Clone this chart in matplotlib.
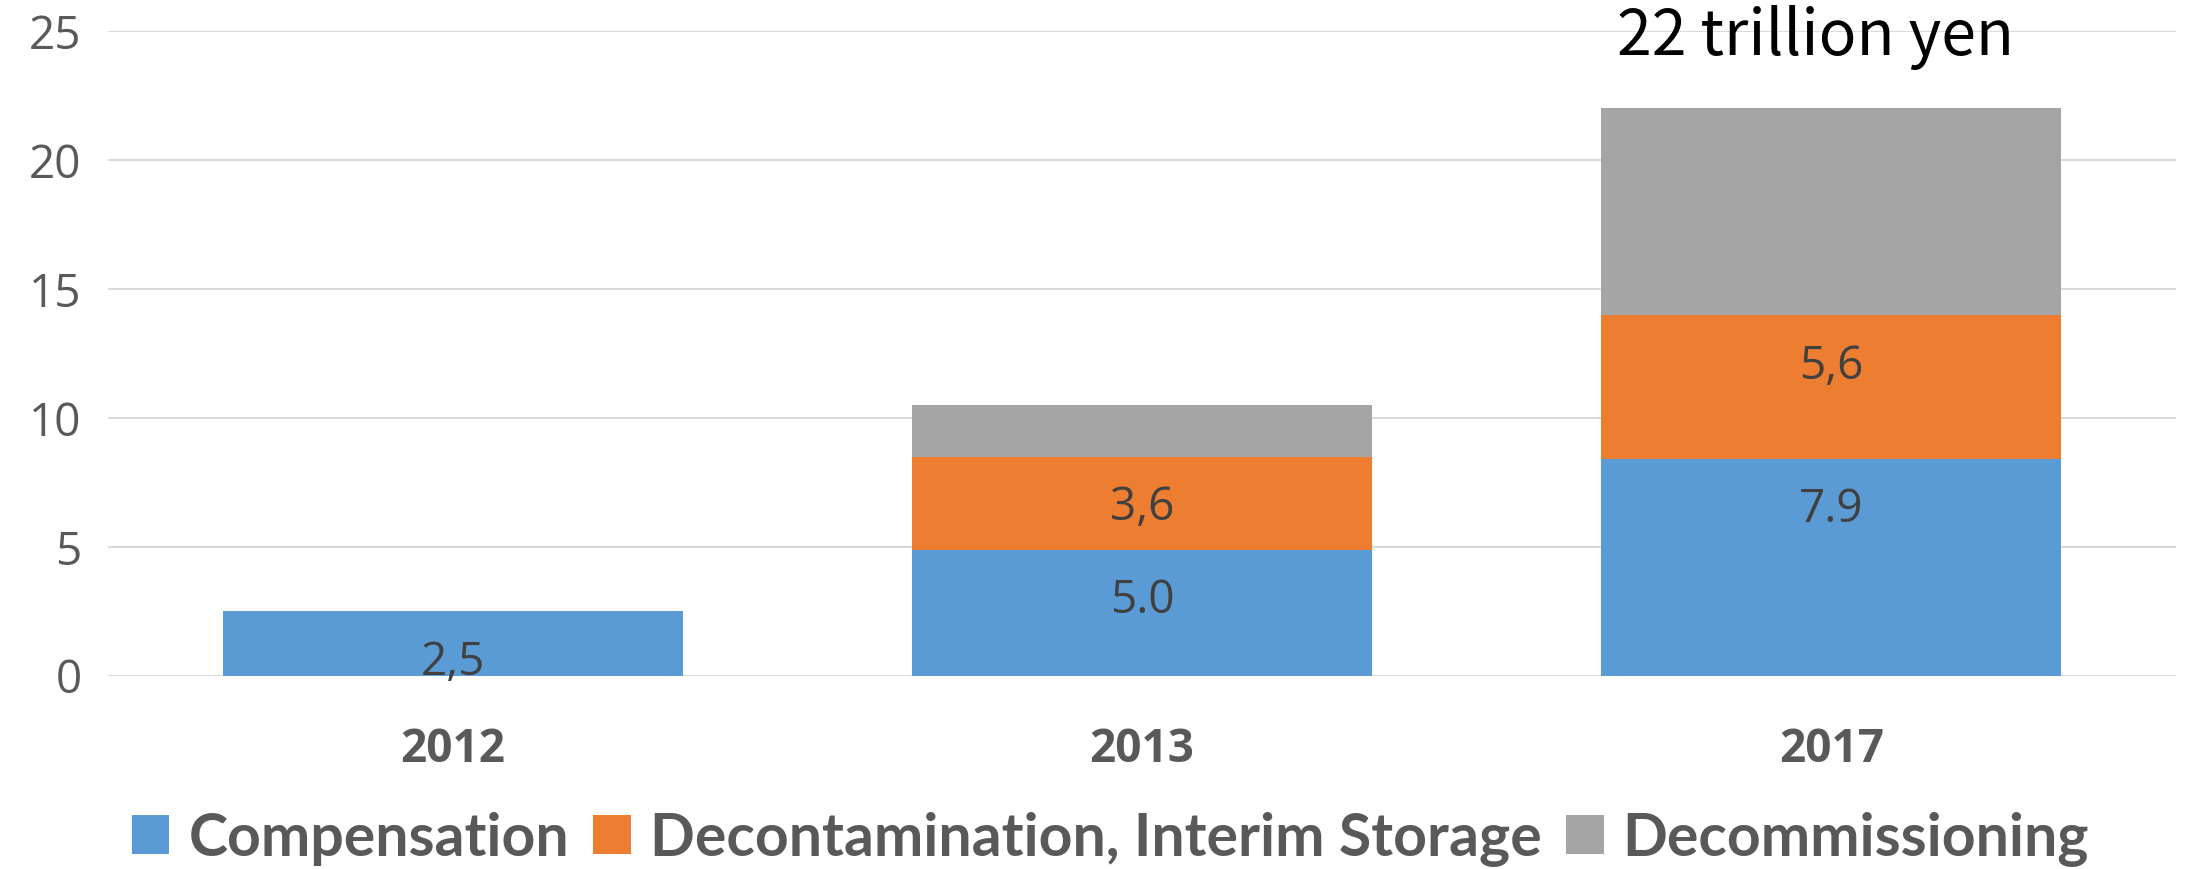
import matplotlib
matplotlib.use('Agg')
import matplotlib.pyplot as plt
from matplotlib import font_manager
import numpy as np

years = ['2012', '2013', '2017']
compensation = [2.5, 4.9, 8.4]
decontamination = [0.0, 3.6, 5.6]
decommissioning = [0.0, 2.0, 8.0]
series_names = ['Compensation', 'Decontamination, Interim Storage', 'Decommissioning']
colors = ['#5B9BD5', '#ED7D31', '#A5A5A5']

# value labels as typed on the original chart (series index, year index, text, baseline y)
labels = [(0, 0, '2,5', 0.04), (0, 1, '5.0', 2.44), (1, 1, '3,6', 6.05),
          (0, 2, '7.9', 5.95), (1, 2, '5,6', 11.5)]
total_text = '22 trillion yen'

installed = {f.name for f in font_manager.fontManager.ttflist}
def pick(*names):
    for n in names:
        if n in installed:
            return n
    return 'DejaVu Sans'

tick_font = pick('Open Sans', 'Noto Sans')
legend_font = pick('Lato', 'Open Sans')
title_font = pick('Liberation Sans Narrow', 'DejaVu Sans Condensed', 'Noto Sans CJK JP')

fig = plt.figure(figsize=(21.9, 8.69), dpi=100)
ax = fig.add_axes([0.0493, 0.2221, 0.9443, 0.7422])

x = np.arange(len(years))
data = [compensation, decontamination, decommissioning]
bottom = np.zeros(len(years))
for vals, name, c in zip(data, series_names, colors):
    ax.bar(x, vals, 0.667, bottom=bottom, color=c, label=name, zorder=2)
    bottom += np.array(vals)

ax.set_xlim(-0.5, 2.5)
ax.set_ylim(0, 25)
ax.set_yticks([0, 5, 10, 15, 20, 25])
ax.grid(axis='y', color='#D9D9D9', lw=1.4, zorder=0)
ax.set_axisbelow(True)
for s in ax.spines.values():
    s.set_visible(False)
ax.tick_params(length=0)
ax.tick_params(axis='y', pad=19, labelsize=33, labelcolor='#595959')
ax.tick_params(axis='x', pad=36, labelsize=33, labelcolor='#595959')
ax.set_xticks(x)
ax.set_xticklabels(years, fontweight='bold')
for t in ax.get_yticklabels() + ax.get_xticklabels():
    t.set_family(tick_font)

for si, yi, txt, yb in labels:
    ax.text(x[yi], yb, txt, ha='center', va='baseline', fontsize=33,
            color='#404040', family=tick_font, zorder=3)

ax.text(1.977, 24.07, total_text, ha='center', va='baseline', fontsize=45,
        color='black', family=title_font)

fig.legend(loc='center', bbox_to_anchor=(0.507, 0.0345), ncol=3, frameon=False,
           prop={'family': legend_font, 'weight': 'bold', 'size': 42.5},
           labelcolor='#595959', handlelength=0.64, handleheight=0.64,
           handletextpad=0.32, columnspacing=0.41, borderpad=0)

fig.savefig('out.png', dpi=100)
